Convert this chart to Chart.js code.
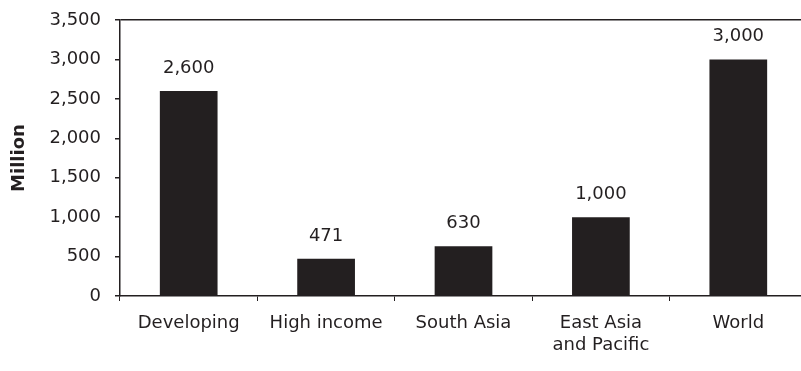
<!DOCTYPE html>
<html>
<head>
<meta charset="utf-8">
<script src="https://cdn.jsdelivr.net/npm/chart.js@4"></script>
<style>
  html, body { margin: 0; padding: 0; background: #fff; overflow: hidden; }
  #wrap { width: 808px; height: 371px; }
</style>
</head>
<body>
<div id="wrap"><canvas id="myChart"></canvas></div>
<script>
const regions = ['Developing', 'High income', 'South Asia', ['East Asia', 'and Pacific'], 'World'];
const people = [2600, 471, 630, 1000, 3000];
const yTicks = [0, 500, 1000, 1500, 2000, 2500, 3000, 3500];

const ink = '#231f20';
const textFont = { family: 'DejaVu Sans', size: 18 };

// number above each bar
const barValues = {
  id: 'barValues',
  afterDatasetsDraw(chart) {
    const ctx = chart.ctx;
    const meta = chart.getDatasetMeta(0);
    ctx.save();
    ctx.font = '18px "DejaVu Sans"';
    ctx.fillStyle = ink;
    ctx.textAlign = 'center';
    ctx.textBaseline = 'middle';
    meta.data.forEach((bar, i) => {
      ctx.fillText(people[i].toLocaleString('en-US'), bar.x, bar.y - 23);
    });
    ctx.restore();
  }
};

const config = {
  type: 'bar',
  data: {
    labels: regions,
    datasets: [{
      data: people,
      backgroundColor: ink,
      borderWidth: 0,
      barPercentage: 0.42,
      categoryPercentage: 1
    }]
  },
  options: {
    responsive: true,
    maintainAspectRatio: false,
    animation: false,
    layout: { padding: { top: 20, right: 1, left: 0, bottom: 0 } },
    plugins: {
      legend: { display: false },
      tooltip: { enabled: false }
    },
    scales: {
      x: {
        grid: {
          offset: true,
          drawOnChartArea: false,
          drawTicks: true,
          tickLength: 5,
          tickColor: ink
        },
        border: { color: ink, width: 1.5 },
        ticks: {
          color: ink,
          font: textFont,
          padding: 12,
          maxRotation: 0,
          autoSkip: false
        },
        afterFit(scale) { scale.height = 75; }
      },
      y: {
        min: 0,
        max: 3500,
        afterBuildTicks(scale) { scale.ticks = yTicks.map(v => ({ value: v })); },
        grid: {
          color: (c) => c.tick && c.tick.value === 3500 ? ink : 'rgba(0,0,0,0)',
          lineWidth: 1.5,
          drawTicks: true,
          tickLength: 5,
          tickColor: ink
        },
        border: { color: ink, width: 1.5 },
        ticks: {
          color: ink,
          font: textFont,
          padding: 14,
          callback: (v) => v.toLocaleString('en-US')
        },
        title: {
          display: true,
          text: 'Million',
          color: ink,
          font: { family: 'DejaVu Sans', size: 18, weight: 'bold' },
          padding: { top: 9, bottom: 0 }
        },
        afterFit(scale) {
          scale.width = 120;
          // the top label may overhang the frame; layout padding handles it
          scale.paddingTop = 0;
          scale.paddingBottom = 0;
        }
      }
    }
  },
  plugins: [barValues]
};

const ctx = document.getElementById('myChart').getContext('2d');
const myChart = new Chart(ctx, config);
</script>
</body>
</html>
